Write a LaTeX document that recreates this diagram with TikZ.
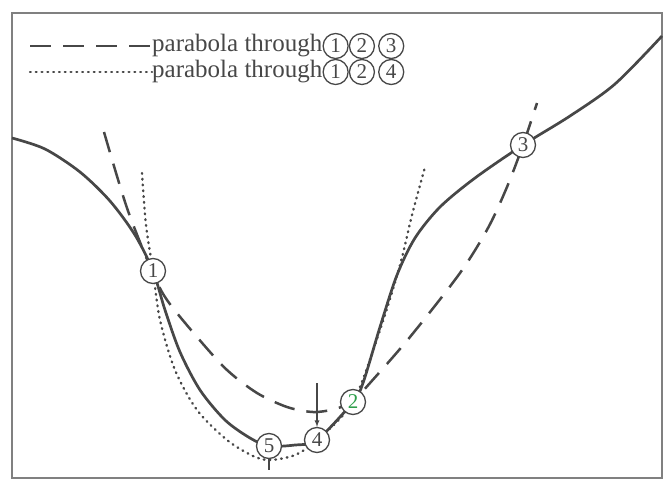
\documentclass[tikz,border=0pt]{standalone}
\usepackage{fontspec}
\setmainfont{Liberation Serif}
\usetikzlibrary{positioning}
\definecolor{traco}{HTML}{474747}
\definecolor{verde}{HTML}{2E9E4A}

\begin{document}
\begin{tikzpicture}[>=latex, x=1pt, y=-1pt,
    ponto/.style={draw=traco, circle, line width=1.3pt, fill=white, inner sep=0pt,
      minimum size=25pt, text=traco, font=\fontsize{21}{21}\selectfont},
    legenda/.style={text=traco, inner sep=0pt, font=\fontsize{25}{28}\selectfont},
    funcao/.style={traco, line width=2.7pt},
    tracej/.style={traco, line width=2.5pt, dash pattern=on 21pt off 12pt},
    pontilh/.style={traco, line width=2.4pt, line cap=round, dash pattern=on 0.8pt off 5pt}]

% frame
\useasboundingbox (0,0) rectangle (664,482);
\draw[gray, line width=1.2pt] (12,13) rectangle (662,478);

% legend
\node[legenda, anchor=west] (leg1) at (152,46) {parabola through};
\node[ponto, right=0pt of leg1] (l11) {1};
\node[ponto, right=0pt of l11] (l12) {2};
\node[ponto, right=3pt of l12] (l13) {3};
\coordinate (d1) at (30,46);
\draw[tracej] (d1) -- (leg1.west);

\node[legenda, anchor=west] (leg2) at (152,72) {parabola through};
\node[ponto, right=0pt of leg2] (l21) {1};
\node[ponto, right=0pt of l21] (l22) {2};
\node[ponto, right=3pt of l22] (l24) {4};
\coordinate (d2) at (30,72);
\draw[pontilh] (d2) -- (leg2.west);

% parabola through 1 2 3
\draw[tracej] plot[smooth] coordinates {(104,132) (127,208) (152,271) (167,300) (197,337)
  (227,370) (257,393) (287,407) (313,412) (335,409) (353,401) (370,383) (410,337)
  (460,273) (488,228) (507,187) (523,145) (537,103)};

% parabola through 1 2 4
\draw[pontilh] plot[smooth] coordinates {(142,173) (146,225) (153,271) (160,320)
  (175,370) (197,410) (227,440) (253,456) (270,460) (295,455) (317,440) (353,402)
  (380,330) (400,265) (412,215) (425,167)};

% function
\draw[funcao] plot[smooth] coordinates {(12,138) (45,149) (80,172) (110,201) (135,235)
  (153,271) (165,310) (180,352) (200,390) (225,420) (250,438) (269,446) (295,445)
  (317,440) (353,402) (363,383) (380,327) (397,275) (415,238) (440,207) (475,178)
  (523,145) (570,116) (615,84) (662,36)};

% points
\node[ponto] (p1) at (153,271) {1};
\node[ponto, text=verde] (p2) at (353,402) {2};
\node[ponto] (p3) at (523,145) {3};
\node[ponto] (p4) at (317,440) {4};
\node[ponto] (p5) at (269,446) {5};

% minima marks
\coordinate (a4) at (317,383);
\draw[->, traco, line width=1.2pt] (a4) -- (p4);
\coordinate (a5) at (269,470);
\draw[traco, line width=1.2pt] (p5) -- (a5);

\end{tikzpicture}
\end{document}
